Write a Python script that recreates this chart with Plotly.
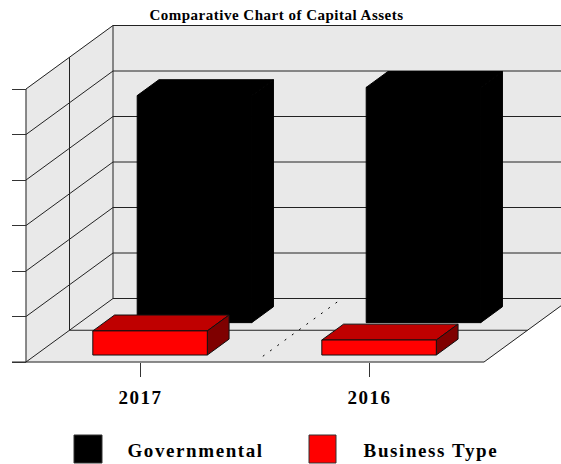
import plotly.graph_objects as go

title = "Comparative Chart of Capital Assets"
years = ["2017", "2016"]
series_names = ["Governmental", "Business Type"]
governmental = [4.99, 5.17]
business = [0.53, 0.33]
y_ticks = [0, 1, 2, 3, 4, 5, 6]

W, H = 561, 464
FONT = "Liberation Serif"
WALL = "#E9E9E9"
LINE = "#222222"

# pixel calibration of the axes
PX0, PX_UNIT = 26 + 0.5 * 229, 229.0   # pixel of category 0, pixels per category
PY0, PY_UNIT = 362.0, 45.5             # pixel of value 0, pixels per value unit
DX, DY = 87 / PX_UNIT, 63.5 / PY_UNIT  # depth offset in axis units
XMIN, XMAX, YMAX = -0.5, 1.5, 6
BAR_HALF = 0.25


def P(x, v, z=0.0):
    return x + z * DX, v + z * DY


fig = go.Figure()


def poly(points, fill, line=None, width=1):
    xs, ys = zip(*points)
    fig.add_trace(go.Scatter(
        x=list(xs) + [xs[0]], y=list(ys) + [ys[0]], mode="lines", fill="toself",
        fillcolor=fill, line=dict(color=line or fill, width=width),
        hoverinfo="skip", showlegend=False))


def seg(a, b, color=LINE, width=1, dash=None):
    fig.add_trace(go.Scatter(
        x=[a[0], b[0]], y=[a[1], b[1]], mode="lines",
        line=dict(color=color, width=width, dash=dash),
        hoverinfo="skip", showlegend=False))


def box(cx, value, z0, z1, front, top, side, line):
    l, r = cx - BAR_HALF, cx + BAR_HALF
    poly([P(l, value, z0), P(r, value, z0), P(r, value, z1), P(l, value, z1)], top, line)
    poly([P(r, 0, z0), P(r, 0, z1), P(r, value, z1), P(r, value, z0)], side, line)
    poly([P(l, 0, z0), P(r, 0, z0), P(r, value, z0), P(l, value, z0)], front, line)


# walls and floor
poly([P(XMIN, 0, 1), P(XMAX, 0, 1), P(XMAX, YMAX, 1), P(XMIN, YMAX, 1)], WALL)
poly([P(XMIN, 0, 0), P(XMIN, 0, 1), P(XMIN, YMAX, 1), P(XMIN, YMAX, 0)], WALL)
poly([P(XMIN, 0, 0), P(XMAX, 0, 0), P(XMAX, 0, 1), P(XMIN, 0, 1)], WALL)

# grid
for v in y_ticks:
    seg(P(XMIN, v, 0), P(XMIN, v, 1))
    seg(P(XMIN, v, 1), P(XMAX, v, 1))
seg(P(XMIN, 0, 0), P(XMIN, YMAX, 0))
seg(P(XMIN, 0, 0.5), P(XMIN, YMAX, 0.5))
seg(P(XMIN, 0, 1), P(XMIN, YMAX, 1))
seg(P(XMIN, 0, 0.5), P(XMAX, 0, 0.5))
seg(P(XMAX, 0, 0), P(XMAX, 0, 1))
seg((XMIN - 14 / PX_UNIT, 0), P(XMAX, 0, 0))

# floor divider between categories
seg(P(0.5, 0, 0.09), P(0.5, 0, 0.97), color="#000000", dash="2px,7px")

# back series, then front series
for i, v in enumerate(governmental):
    box(i, v, 0.62, 0.87, "#000000", "#000000", "#000000", "#000000")
for i, v in enumerate(business):
    box(i, v, 0.11, 0.36, "#FF0000", "#BF0000", "#7F0000", "#111111")

swatches = [(74, 102, "#000000"), (309, 336, "#FF0000")]
label_x = [135, 372]

fig.update_layout(
    width=W, height=H, margin=dict(l=0, r=0, t=0, b=0),
    paper_bgcolor="white", plot_bgcolor="white", showlegend=False,
    title=dict(text=title, x=276.5 / W, xanchor="center", y=1 - 15 / H, yanchor="middle",
               font=dict(family=FONT, size=15, weight="bold", color="#000000")),
    xaxis=dict(
        range=[(0 - PX0) / PX_UNIT, (W - PX0) / PX_UNIT], domain=[0, 1],
        anchor="free", position=1 - PY0 / H, side="bottom", showgrid=False, zeroline=False,
        showline=False, tickmode="array", tickvals=[0, 1], ticktext=years,
        ticks="outside", ticklen=14, tickwidth=1, tickcolor="#333333",
        tickfont=dict(family=FONT, size=19, weight="bold", color="#000000"),
        ticklabelstandoff=4),
    yaxis=dict(
        range=[(PY0 - H) / PY_UNIT, PY0 / PY_UNIT], domain=[0, 1],
        anchor="free", position=26 / W, side="left", showgrid=False, zeroline=False,
        showline=False, tickmode="array", tickvals=y_ticks, showticklabels=False,
        ticks="outside", ticklen=14, tickwidth=1, tickcolor="#333333"),
    shapes=[dict(type="rect", xref="paper", yref="paper", x0=a / W, x1=b / W,
                 y0=1 - 463 / H, y1=1 - 435 / H, fillcolor=c,
                 line=dict(color="#333333", width=1)) for a, b, c in swatches],
    annotations=[dict(text=n, xref="paper", yref="paper", x=x / W, y=1 - 450.5 / H,
                      xanchor="left", yanchor="middle", showarrow=False,
                      font=dict(family=FONT, size=19, weight="bold", color="#000000"))
                 for n, x in zip(series_names, label_x)],
)

page_css = """
var s = document.createElement('style');
s.textContent = 'html,body{margin:0;padding:0;overflow:hidden}'
  + '.gtitle{letter-spacing:0.5px}'
  + '.annotation-text{letter-spacing:1.6px}'
  + '.xtick text{letter-spacing:1.5px}';
document.head.appendChild(s);
"""
fig.write_html("out.html", config=dict(displayModeBar=False), post_script=page_css)
